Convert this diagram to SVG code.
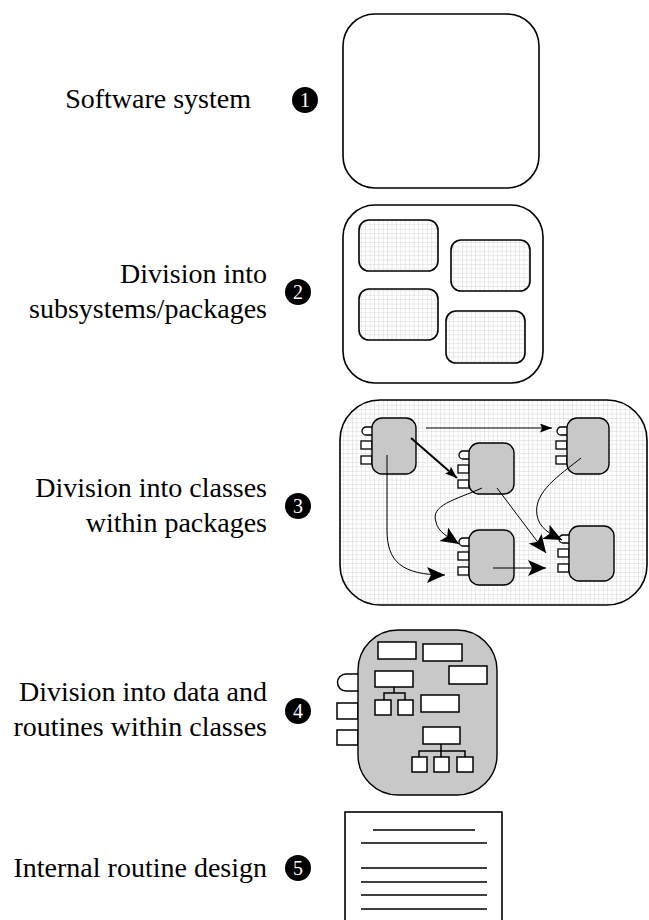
<svg xmlns="http://www.w3.org/2000/svg" width="649" height="920" viewBox="0 0 649 920">
<defs>
<pattern id="grid" width="4.4" height="4.4" patternUnits="userSpaceOnUse">
<rect width="4.4" height="4.4" fill="#ffffff"/>
<path d="M0,0.3 H4.4 M0.3,0 V4.4" stroke="#d4d4d4" stroke-width="0.6" fill="none"/>
</pattern>
<marker id="hs" markerUnits="userSpaceOnUse" markerWidth="14" markerHeight="10" refX="12" refY="4.5" orient="auto">
<path d="M0,0 L12,4.5 L0,9 L2,4.5 z" fill="#000"/>
</marker>
<marker id="hl" markerUnits="userSpaceOnUse" markerWidth="20" markerHeight="18" refX="18" refY="8" orient="auto">
<path d="M0,0 L18,8 L0,16 L4,8 z" fill="#000"/>
</marker>
<g id="ports">
<path d="M11,9 H5 A4,4 0 0 0 5,17 H11"/>
<rect x="0" y="23" width="11" height="8"/>
<rect x="0" y="38" width="11" height="8"/>
</g>
</defs>
<style>
.lbl{font-family:"Liberation Serif","Times New Roman",serif;font-size:28px;fill:#000;text-anchor:end}
.num{font-family:"Liberation Serif","Times New Roman",serif;font-size:20px;fill:#fff;text-anchor:middle}
.dot{fill:#000}
.box{fill:#fff;stroke:#000;stroke-width:1.6}
.gridbox{fill:url(#grid);stroke:#000;stroke-width:1.6}
.cls{fill:#c8c8c8;stroke:#000;stroke-width:1.4}
.port{fill:#fff;stroke:#000;stroke-width:1.3}
.wr{fill:#fff;stroke:#000;stroke-width:1.5}
.ln{fill:none;stroke:#000;stroke-width:1.5}
.con{fill:none;stroke:#000;stroke-width:1}
.thick{stroke-width:2}
</style>

<!-- Labels -->
<g id="label1">
<text class="lbl" x="251" y="108">Software system</text>
<circle class="dot" cx="305" cy="100" r="13"/>
<text class="num" x="305" y="107">1</text>
</g>
<g id="label2">
<text class="lbl" x="267" y="283">Division into</text>
<text class="lbl" x="267" y="318">subsystems/packages</text>
<circle class="dot" cx="298" cy="292" r="13"/>
<text class="num" x="298" y="299">2</text>
</g>
<g id="label3">
<text class="lbl" x="267" y="497">Division into classes</text>
<text class="lbl" x="267" y="532">within packages</text>
<circle class="dot" cx="298" cy="506" r="13"/>
<text class="num" x="298" y="513">3</text>
</g>
<g id="label4">
<text class="lbl" x="267" y="701">Division into data and</text>
<text class="lbl" x="267" y="736">routines within classes</text>
<circle class="dot" cx="298" cy="711" r="13"/>
<text class="num" x="298" y="718">4</text>
</g>
<g id="label5">
<text class="lbl" x="267" y="877">Internal routine design</text>
<circle class="dot" cx="298" cy="868" r="13"/>
<text class="num" x="298" y="875">5</text>
</g>

<!-- 1 Software system -->
<g id="system">
<rect class="box" x="343" y="14" width="196" height="174" rx="32"/>
</g>

<!-- 2 Subsystems -->
<g id="subsystems">
<rect class="box" x="343" y="205" width="200" height="178" rx="32"/>
<rect class="gridbox" x="359" y="220" width="79" height="51" rx="10"/>
<rect class="gridbox" x="451" y="240" width="79" height="51" rx="10"/>
<rect class="gridbox" x="359" y="289" width="79" height="51" rx="10"/>
<rect class="gridbox" x="446" y="311" width="79" height="52" rx="10"/>
</g>

<!-- 3 Classes -->
<g id="package">
<rect class="gridbox" x="340" y="400" width="307" height="205" rx="40"/>
</g>
<g id="class1">
<use href="#ports" class="port" transform="translate(361,418)"/>
<rect class="cls" x="372" y="418" width="44" height="56" rx="10"/>
</g>
<g id="class2">
<use href="#ports" class="port" transform="translate(458,442)"/>
<rect class="cls" x="469" y="443" width="45" height="51" rx="10"/>
</g>
<g id="class3">
<use href="#ports" class="port" transform="translate(556,418)"/>
<rect class="cls" x="567" y="418" width="42" height="56" rx="10"/>
</g>
<g id="class4">
<use href="#ports" class="port" transform="translate(458,529)"/>
<rect class="cls" x="469" y="530" width="45" height="55" rx="10"/>
</g>
<g id="class5">
<use href="#ports" class="port" transform="translate(558,526)"/>
<rect class="cls" x="569" y="526" width="45" height="55" rx="10"/>
</g>

<g id="connectors">
<path class="con" d="M426,428 L552,428" marker-end="url(#hs)"/>
<path class="con thick" d="M411,438 L457,478" marker-end="url(#hs)"/>
<path class="con" d="M387,455 L387,530 C387,562 402,575 445,575" marker-end="url(#hl)"/>
<path class="con" d="M482,488 C455,500 430,505 436,522 C438,532 448,537 459,544" marker-end="url(#hl)"/>
<path class="con" d="M497,488 L546,553" marker-end="url(#hl)"/>
<path class="con" d="M493,568 L546,568" marker-end="url(#hl)"/>
<path class="con" d="M581,458 C560,475 533,492 537,515 C539,528 550,534 562,540" marker-end="url(#hl)"/>
</g>

<!-- 4 Data and routines -->
<g id="class-detail">
<path class="wr" d="M358,674 H346 A8.5,8.5 0 0 0 346,691 H358"/>
<rect class="wr" x="337" y="703" width="21" height="16"/>
<rect class="wr" x="337" y="730" width="21" height="15"/>
<rect class="cls" x="358" y="630" width="139" height="165" rx="40" stroke-width="1.6"/>
<rect class="wr" x="378" y="642" width="38" height="17"/>
<rect class="wr" x="423" y="644" width="39" height="17"/>
<rect class="wr" x="449" y="666" width="38" height="18"/>
<rect class="wr" x="375" y="671" width="38" height="16"/>
<path class="ln" d="M394,687 V693 M384,700 V693 H405 V700"/>
<rect class="wr" x="375" y="700" width="16" height="15"/>
<rect class="wr" x="398" y="700" width="15" height="15"/>
<rect class="wr" x="421" y="695" width="38" height="17"/>
<rect class="wr" x="423" y="727" width="37" height="17"/>
<path class="ln" d="M441,744 V757 M419,757 V751 H465 V757"/>
<rect class="wr" x="412" y="757" width="15" height="15"/>
<rect class="wr" x="434" y="757" width="15" height="15"/>
<rect class="wr" x="457" y="757" width="16" height="15"/>
</g>

<!-- 5 Routine -->
<g id="routine">
<rect class="box" x="345" y="812" width="157" height="130"/>
<path class="ln" d="M373,830 H475 M361,843 H487 M361,868 H487 M361,882 H487 M361,895 H487 M361,909 H487"/>
</g>
</svg>
